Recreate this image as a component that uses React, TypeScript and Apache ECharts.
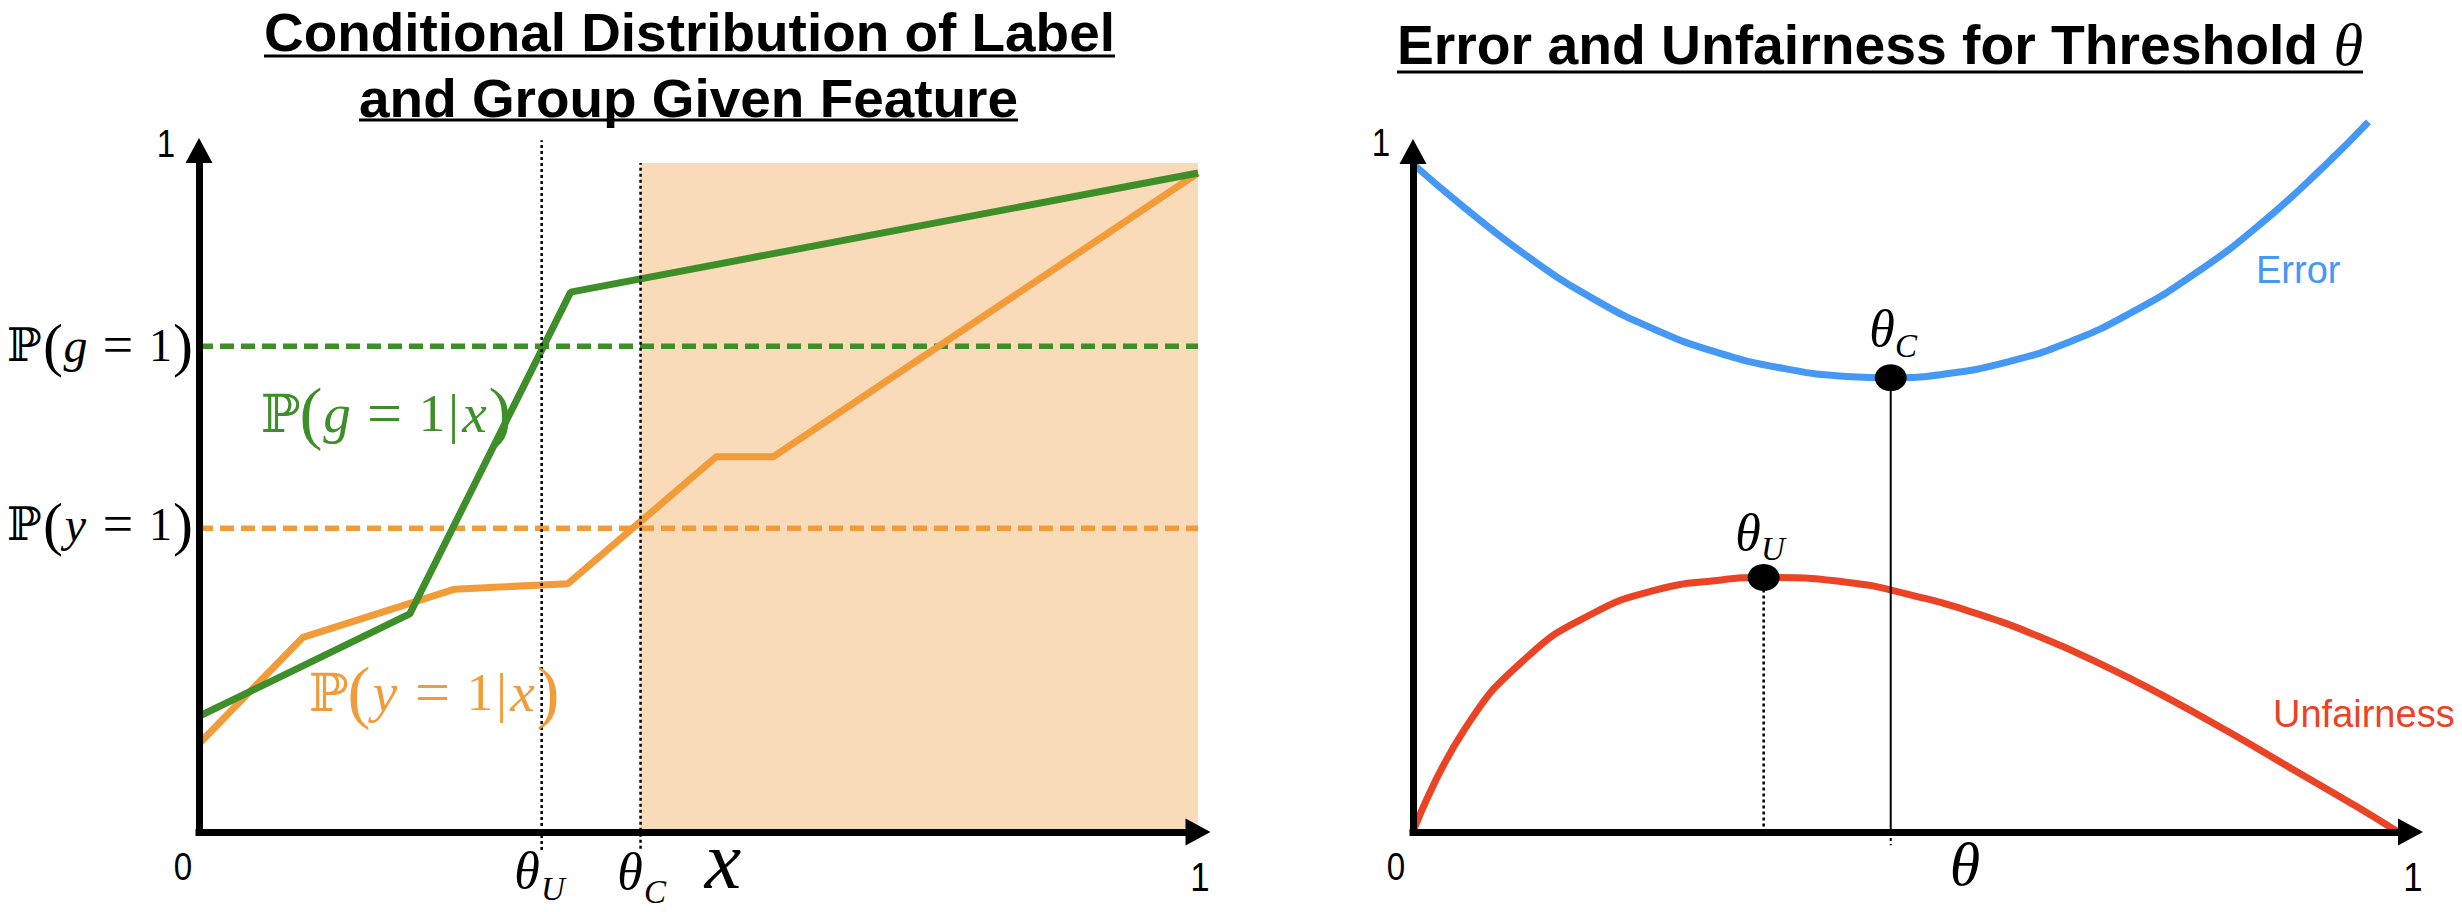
import React, { useEffect, useRef } from 'react';
import * as echarts from 'echarts';

// ---------------- Left panel: conditional distributions ----------------
const featureGroupX = [0, 0.211, 0.372, 1.0];
const featureGroupY = [0.173, 0.326, 0.807, 0.985];
const featureLabelX = [0, 0.104, 0.256, 0.369, 0.518, 0.575, 1.0];
const featureLabelY = [0.132, 0.291, 0.363, 0.371, 0.561, 0.561, 0.985];
const groupBaseRate = 0.726;
const labelBaseRate = 0.454;
const thresholdU = 0.343;
const thresholdC = 0.442;

// ---------------- Right panel: error / unfairness vs threshold ----------------
const errorTheta = [0, 0.052, 0.116, 0.181, 0.246, 0.311, 0.376, 0.44, 0.485, 0.537, 0.602, 0.667, 0.731, 0.796, 0.861, 0.926, 0.97];
const errorValue = [1.0, 0.935, 0.862, 0.8, 0.752, 0.717, 0.694, 0.682, 0.68, 0.685, 0.703, 0.734, 0.779, 0.838, 0.911, 0.998, 1.063];
const unfairTheta = [0, 0.052, 0.116, 0.181, 0.246, 0.311, 0.356, 0.44, 0.505, 0.57, 0.635, 0.699, 0.763, 0.828, 0.893, 0.958, 1.0];
const unfairValue = [0, 0.153, 0.262, 0.326, 0.362, 0.377, 0.381, 0.374, 0.355, 0.328, 0.293, 0.251, 0.203, 0.15, 0.094, 0.038, 0];
const thetaCPoint = [0.485, 0.68];
const thetaUPoint = [0.356, 0.381];

const tickLabels = ['0', '1'];
const titleLeft = ['Conditional Distribution of Label', 'and Group Given Feature'];
const titleRight = 'Error and Unfairness for Threshold ';

const GREEN = '#3E8E29';
const ORANGE = '#F19B39';
const PEACH = '#F9DAB9';
const BLUE = '#4599F5';
const RED = '#EA4326';

const SANS = '"Liberation Sans", Arial, Helvetica, sans-serif';
const SERIF = '"Liberation Serif", "Times New Roman", serif';
const BB = '"DejaVu Serif", "DejaVu Sans", serif';

const zip = (xs: number[], ys: number[]) => xs.map((x, i) => [x, ys[i]]);

function measure(text: string, font: string) {
  const c = document.createElement('canvas').getContext('2d')!;
  c.font = font;
  return c.measureText(text).width;
}

function axisPair(gridIndex: number, endOffset: number) {
  return {
    gridIndex,
    type: 'value',
    min: 0,
    max: 1,
    z: 10,
    axisTick: { show: false },
    axisLabel: { show: false },
    splitLine: { show: false },
    axisLine: {
      show: true,
      onZero: false,
      symbol: ['none', 'triangle'],
      symbolSize: [27, 25],
      symbolOffset: [0, endOffset],
      lineStyle: { color: '#000', width: 7, cap: 'square' },
    },
  };
}

// rich math text like P(g = 1) or P(g = 1|x)
function probText(v: string, cond: boolean, big: boolean, color: string) {
  const s = big ? 1.15 : 1;
  const w = big
    ? { P: 39, o: 23, v: 29, e: 66, n: 29, b: 14, x: 28, c: 23 }
    : { P: 36, o: 20, v: 25, e: 60, n: 25, b: 0, x: 0, c: 20 };
  const text = cond
    ? `{P|ℙ}{o|(}{v|${v}}{e|=}{n|1}{b||}{x|x}{c|)}`
    : `{P|ℙ}{o|(}{v|${v}}{e|=}{n|1}{c|)}`;
  const rich: any = {
    P: { fontFamily: BB, fontSize: 46 * s, width: w.P, align: 'left', fill: color },
    o: { fontFamily: SERIF, fontSize: 60 * s, width: w.o, align: 'center', fill: color },
    v: { fontFamily: SERIF, fontStyle: 'italic', fontSize: 48 * s, width: w.v, align: 'center', fill: color },
    e: { fontFamily: SERIF, fontSize: 54 * s, width: w.e, align: 'center', fill: color },
    n: { fontFamily: SERIF, fontSize: 46 * s, width: w.n, align: 'center', fill: color },
    b: { fontFamily: SERIF, fontSize: 48 * s, width: w.b, align: 'center', fill: color },
    x: { fontFamily: SERIF, fontStyle: 'italic', fontSize: 48 * s, width: w.x, align: 'center', fill: color },
    c: { fontFamily: SERIF, fontSize: 60 * s, width: w.c, align: 'center', fill: color },
  };
  return { text, rich };
}

function txt(x: number, y: number, text: string, style: any = {}) {
  return {
    type: 'text',
    x,
    y,
    silent: true,
    z: 100,
    style: { text, fill: '#000', align: 'center', verticalAlign: 'middle', ...style },
  };
}

function buildOption() {
  const titleFont = 53;
  const boldFont = `bold ${titleFont}px ${SANS}`;
  const l1w = measure(titleLeft[0], boldFont);
  const l2w = measure(titleLeft[1], boldFont);
  const rbw = measure(titleRight, `bold 55px ${SANS}`);
  const rtw = measure('θ', `italic 60px ${SERIF}`);

  const gText = probText('g', false, false, '#000');
  const yText = probText('y', false, false, '#000');
  const gCond = probText('g', true, true, GREEN);
  const yCond = probText('y', true, true, ORANGE);

  const tick = { fontSize: 39, fontFamily: SANS };
  const th = { fontSize: 52, fontFamily: SERIF, fontStyle: 'italic' };
  const sub = { fontSize: 33, fontFamily: SERIF, fontStyle: 'italic' };

  const graphic: any[] = [
    // titles
    { ...txt(689.5, 32, titleLeft[0], { fontSize: titleFont, fontFamily: SANS, fontWeight: 'bold' }), scaleX: 851 / l1w },
    { ...txt(688.5, 98, titleLeft[1], { fontSize: titleFont, fontFamily: SANS, fontWeight: 'bold' }), scaleX: 659 / l2w },
    {
      ...txt(1880, 45, `{b|${titleRight}}{t|θ}`, {
        rich: {
          b: { fontSize: 55, fontFamily: SANS, fontWeight: 'bold', fill: '#000' },
          t: { fontSize: 60, fontFamily: SERIF, fontStyle: 'italic', fill: '#000' },
        },
      }),
      scaleX: 966 / (rbw + rtw),
    },
    { type: 'line', silent: true, z: 100, shape: { x1: 264, y1: 56, x2: 1115, y2: 56 }, style: { stroke: '#000', lineWidth: 3 } },
    { type: 'line', silent: true, z: 100, shape: { x1: 359, y1: 120, x2: 1018, y2: 120 }, style: { stroke: '#000', lineWidth: 3 } },
    { type: 'line', silent: true, z: 100, shape: { x1: 1397, y1: 72, x2: 2363, y2: 72 }, style: { stroke: '#000', lineWidth: 3 } },

    // left tick labels and axis annotations
    { ...txt(166, 144, tickLabels[1], tick), scaleX: 0.85 },
    { ...txt(183, 867, tickLabels[0], tick), scaleX: 0.85 },
    { ...txt(1200, 877, tickLabels[1], { ...tick, fontSize: 41 }), scaleX: 0.85 },
    txt(723, 860, 'x', { fontSize: 82, fontFamily: SERIF, fontStyle: 'italic' }),
    txt(527, 870, 'θ', th),
    txt(553, 889, 'U', sub),
    txt(630, 871, 'θ', th),
    txt(655, 892, 'C', sub),

    // probability labels
    txt(193, 345, gText.text, { rich: gText.rich, align: 'right' }),
    txt(193, 524, yText.text, { rich: yText.rich, align: 'right' }),
    txt(386, 413, gCond.text, { rich: gCond.rich }),
    txt(434, 692, yCond.text, { rich: yCond.rich }),

    // right tick labels and annotations
    { ...txt(1381, 143, tickLabels[1], tick), scaleX: 0.85 },
    { ...txt(1396, 867, tickLabels[0], tick), scaleX: 0.85 },
    { ...txt(2413, 877, tickLabels[1], { ...tick, fontSize: 41 }), scaleX: 0.85 },
    txt(1965, 864, 'θ', { fontSize: 62, fontFamily: SERIF, fontStyle: 'italic' }),
    txt(1882, 328, 'θ', th),
    txt(1906, 346, 'C', sub),
    txt(1748, 532, 'θ', th),
    txt(1773, 549, 'U', sub),
    txt(2256, 270, 'Error', { fontSize: 38, fontFamily: SANS, fill: BLUE, align: 'left' }),
    txt(2273, 714, 'Unfairness', { fontSize: 38, fontFamily: SANS, fill: RED, align: 'left' }),
  ];

  const L = { xAxisIndex: 0, yAxisIndex: 0 };
  const R = { xAxisIndex: 1, yAxisIndex: 1 };
  const base = { type: 'line', showSymbol: false, symbol: 'none', silent: true };

  return {
    animation: false,
    backgroundColor: '#ffffff',
    grid: [
      { left: 199, top: 163, width: 999, height: 669 },
      { left: 1413, top: 164, width: 985, height: 668 },
    ],
    xAxis: [axisPair(0, 0), axisPair(1, 12.5)],
    yAxis: [axisPair(0, 12.5), axisPair(1, 12.5)],
    series: [
      {
        ...base,
        ...L,
        z: 1,
        data: [[thresholdC, 0]],
        lineStyle: { width: 0 },
        markArea: {
          silent: true,
          itemStyle: { color: PEACH },
          data: [[{ coord: [thresholdC, 0] }, { coord: [1, 1] }]],
        },
      },
      { ...base, ...L, z: 2, data: [[0, groupBaseRate], [1, groupBaseRate]], lineStyle: { color: GREEN, width: 5.5, type: [14, 7] } },
      { ...base, ...L, z: 2, data: [[0, labelBaseRate], [1, labelBaseRate]], lineStyle: { color: ORANGE, width: 5.5, type: [14, 7] } },
      { ...base, ...L, z: 3, data: zip(featureLabelX, featureLabelY), lineStyle: { color: ORANGE, width: 7 } },
      { ...base, ...L, z: 3, data: zip(featureGroupX, featureGroupY), lineStyle: { color: GREEN, width: 7 } },
      { ...base, ...L, z: 5, clip: false, data: [[thresholdU, -0.027], [thresholdU, 1.034]], lineStyle: { color: '#000', width: 2.5, type: [3, 3] } },
      { ...base, ...L, z: 5, clip: false, data: [[thresholdC, -0.025], [thresholdC, 1.0]], lineStyle: { color: '#000', width: 2.5, type: [3, 3] } },

      { ...base, ...R, z: 3, clip: false, smooth: 0.5, data: zip(errorTheta, errorValue), lineStyle: { color: BLUE, width: 7 } },
      { ...base, ...R, z: 3, clip: false, smooth: 0.5, data: zip(unfairTheta, unfairValue), lineStyle: { color: RED, width: 7 } },
      { ...base, ...R, z: 4, data: [[thetaCPoint[0], thetaCPoint[1]], [thetaCPoint[0], 0]], lineStyle: { color: '#000', width: 2 } },
      { ...base, ...R, z: 4, clip: false, data: [[thetaCPoint[0], 0], [thetaCPoint[0], -0.02]], lineStyle: { color: '#000', width: 2, type: [3, 3] } },
      { ...base, ...R, z: 4, data: [[thetaUPoint[0], thetaUPoint[1]], [thetaUPoint[0], 0]], lineStyle: { color: '#000', width: 2.5, type: [3, 3] } },
      {
        type: 'scatter',
        ...R,
        z: 12,
        silent: true,
        symbol: 'circle',
        symbolSize: [32, 27],
        itemStyle: { color: '#000', opacity: 1 },
        data: [thetaCPoint, thetaUPoint],
      },
    ],
    graphic,
  };
}

export default function App() {
  const ref = useRef<HTMLDivElement>(null);
  useEffect(() => {
    document.body.style.margin = '0';
    const chart = echarts.init(ref.current!, undefined, { renderer: 'svg', width: 2462, height: 912 });
    chart.setOption(buildOption() as any);
    return () => chart.dispose();
  }, []);
  return <div ref={ref} style={{ width: 2462, height: 912, position: 'absolute', left: 0, top: 0, background: '#fff' }} />;
}
